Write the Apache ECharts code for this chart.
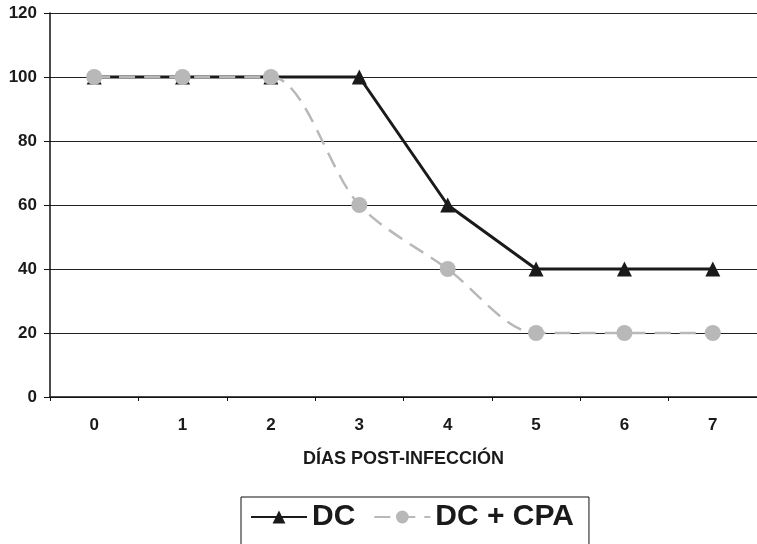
<!DOCTYPE html>
<html>
<head>
<meta charset="utf-8">
<script src="https://cdn.jsdelivr.net/npm/echarts@6/dist/echarts.min.js"></script>
<style>
html, body { margin: 0; padding: 0; background: #fff; }
#chart { width: 757px; height: 544px; }
</style>
</head>
<body>
<div id="chart"></div>
<script>
var dias = ['0', '1', '2', '3', '4', '5', '6', '7'];
var dcValues = [100, 100, 100, 100, 60, 40, 40, 40];
var dcCpaValues = [100, 100, 100, 60, 40, 20, 20, 20];

var fontFam = '"Liberation Sans", Arial, sans-serif';

var chart = echarts.init(document.getElementById('chart'));
var option = {
    animation: false,
    backgroundColor: '#fff',
    grid: {
        left: 50,
        right: -8,
        top: 13,
        bottom: 147
    },
    xAxis: {
        type: 'category',
        data: dias,
        boundaryGap: true,
        name: 'DÍAS POST-INFECCIÓN',
        nameLocation: 'middle',
        nameGap: 53,
        nameTextStyle: { fontFamily: fontFam, fontWeight: 'bold', fontSize: 18, color: '#1a1a1a' },
        axisLine: { lineStyle: { color: '#111', width: 1.5 } },
        axisTick: { show: true, length: 4, alignWithLabel: false, lineStyle: { color: '#111' } },
        axisLabel: { margin: 20, fontFamily: fontFam, fontWeight: 'bold', fontSize: 17, color: '#1a1a1a' },
        splitLine: { show: false }
    },
    yAxis: {
        type: 'value',
        min: 0,
        max: 120,
        interval: 20,
        axisLine: { show: true, lineStyle: { color: '#111', width: 1.5 } },
        axisTick: { show: true, length: 6, lineStyle: { color: '#111' } },
        axisLabel: { margin: 13, fontFamily: fontFam, fontWeight: 'bold', fontSize: 17, color: '#1a1a1a' },
        splitLine: { show: true, lineStyle: { color: '#222', width: 1.2 } }
    },
    legend: {
        left: 241,
        top: 497,
        itemWidth: 56,
        itemHeight: 16,
        itemGap: 18,
        padding: [5, 15, 20, 9],
        borderColor: '#111',
        borderWidth: 1,
        textStyle: { fontFamily: fontFam, fontWeight: 'bold', fontSize: 30, color: '#1a1a1a' },
        data: ['DC', 'DC + CPA']
    },
    series: [{
        name: 'DC',
        type: 'line',
        data: dcValues,
        symbol: 'triangle',
        symbolSize: 15,
        itemStyle: { color: '#1a1a1a' },
        lineStyle: { color: '#1a1a1a', width: 3 }
    }, {
        name: 'DC + CPA',
        type: 'line',
        data: dcCpaValues,
        smooth: 0.3,
        symbol: 'circle',
        symbolSize: 16,
        itemStyle: { color: '#b8b8b8' },
        lineStyle: { color: '#b8b8b8', width: 2.5, type: [16, 9] }
    }]
};
chart.setOption(option);
</script>
</body>
</html>
